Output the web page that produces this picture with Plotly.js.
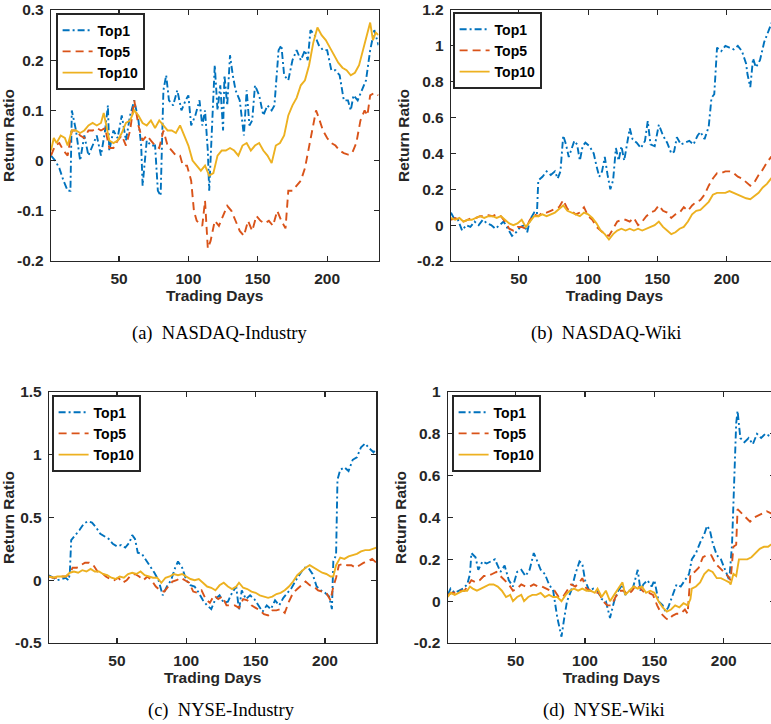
<!DOCTYPE html>
<html>
<head>
<meta charset="utf-8">
<script src="https://cdn.plot.ly/plotly-3.0.1.min.js"></script>
<style>
html,body{margin:0;padding:0;background:#fff;overflow:hidden;}
#chart{width:780px;height:724px;}
</style>
</head>
<body>
<div id="chart"></div>
<script>
// ---------------- DATA ----------------
const seriesNames = ['Top1', 'Top5', 'Top10'];
const captions = ['(a)\u2002NASDAQ-Industry', '(b)\u2002NASDAQ-Wiki', '(c)\u2002NYSE-Industry', '(d)\u2002NYSE-Wiki'];
const xTickVals = [50, 100, 150, 200];
const xTickText = ['50', '100', '150', '200'];

// (a) NASDAQ-Industry
const aDays1 = [1,4,7,10,13,15,16,19,22,25,28,31,34,37,40,42,43,46,49,52,55,58,61,64,66,67,70,73,76,78,80,82,84,86,89,92,95,98,100,102,105,108,110,112,114,115,117,119,121,123,125,126,128,130,132,134,137,140,142,144,146,148,151,154,157,160,162,165,167,169,172,175,178,181,184,186,188,191,194,197,200,203,206,209,212,215,217,219,222,225,228,231,234,237];
const aTop1 = [0.01,0,-0.015,-0.04,-0.06,-0.06,0.1,0.06,0.0,0.05,0.01,0.03,0.05,0.01,0.06,0.11,0.02,0.06,0.045,0.09,0.04,0.09,0.12,0.08,0.03,-0.05,0.04,0.03,0.03,-0.06,-0.07,0.14,0.17,0.12,0.11,0.14,0.1,0.12,0.13,0.07,0.09,0.12,0.07,0.1,0.02,-0.06,0.08,0.19,0.1,0.15,0.06,0.17,0.11,0.21,0.17,0.14,0.12,0.05,0.14,0.07,0.08,0.15,0.13,0.09,0.11,0.1,0.11,0.22,0.23,0.17,0.16,0.2,0.22,0.2,0.22,0.2,0.26,0.25,0.23,0.22,0.22,0.18,0.18,0.17,0.12,0.12,0.1,0.13,0.12,0.14,0.16,0.22,0.26,0.23];
const aDays5 = [1,4,7,10,13,16,19,22,25,28,31,34,37,40,43,46,49,52,55,58,61,64,67,70,73,76,79,82,85,88,91,94,96,99,102,104,106,108,110,112,114,116,119,122,125,128,131,134,137,140,143,146,149,152,155,158,161,164,167,170,172,175,178,181,184,187,190,192,194,197,200,203,206,209,212,215,218,221,224,227,229,231,234,237];
const aTop5 = [0.01,0.03,0.035,0.02,0.01,0.06,0.06,0.05,0.045,0.06,0.06,0.065,0.06,0.065,0.025,0.025,0.04,0.05,0.03,0.06,0.12,0.07,0.04,0.05,0.04,0.03,0.025,0.06,0.03,0.02,0.01,0.01,-0.01,-0.01,-0.04,-0.1,-0.12,-0.125,-0.13,-0.08,-0.175,-0.16,-0.12,-0.13,-0.11,-0.09,-0.1,-0.12,-0.14,-0.15,-0.12,-0.14,-0.11,-0.12,-0.125,-0.12,-0.13,-0.1,-0.12,-0.135,-0.06,-0.06,-0.05,-0.04,-0.015,0.03,0.07,0.1,0.085,0.06,0.045,0.035,0.03,0.02,0.015,0.012,0.015,0.035,0.08,0.1,0.09,0.13,0.135,0.13];
const aDays10 = [1,3,5,8,11,13,16,19,22,25,28,31,34,37,39,41,43,46,49,52,55,58,61,64,67,70,73,76,79,82,85,88,91,94,97,100,103,106,109,112,115,118,121,124,127,130,133,136,139,142,145,148,151,154,157,160,163,166,169,172,175,178,181,184,187,190,193,196,199,202,205,208,211,214,217,220,223,226,229,231,233,235,237];
const aTop10 = [0.02,0.045,0.035,0.05,0.045,0.03,0.06,0.06,0.055,0.06,0.07,0.075,0.07,0.075,0.095,0.07,0.04,0.035,0.04,0.055,0.075,0.08,0.1,0.09,0.075,0.07,0.08,0.065,0.08,0.07,0.06,0.06,0.055,0.07,0.05,0.03,0.0,-0.01,-0.02,-0.01,-0.03,-0.025,0.01,0.02,0.02,0.025,0.02,0.01,0.03,0.035,0.02,0.03,0.035,0.02,0.01,-0.005,0.03,0.035,0.05,0.09,0.11,0.125,0.15,0.16,0.19,0.235,0.265,0.25,0.24,0.225,0.21,0.195,0.185,0.18,0.17,0.175,0.19,0.22,0.25,0.275,0.24,0.255,0.25];
const aYTickVals = [-0.2, -0.1, 0, 0.1, 0.2, 0.3];
const aYTickText = ['-0.2', '-0.1', '0', '0.1', '0.2', '0.3'];

// (b) NASDAQ-Wiki
const bDays1 = [1,3,6,9,12,15,18,21,24,27,30,33,36,39,42,45,48,51,54,56,58,61,63,64,67,70,73,76,78,80,82,84,86,88,90,92,94,96,98,101,104,106,108,110,112,114,116,118,120,122,124,126,128,130,132,135,138,141,143,145,148,151,154,157,160,162,164,167,170,173,176,179,181,184,187,189,191,193,196,199,202,205,208,211,214,215,217,219,221,224,227,230,233,235];
const bTop1 = [0.07,0.04,0.03,-0.03,0.0,-0.01,0.02,0.0,0.03,0.01,0.0,-0.02,0.0,0.02,-0.02,-0.06,-0.04,-0.01,0.0,-0.04,0.03,0.07,0.06,0.25,0.27,0.3,0.28,0.3,0.26,0.3,0.5,0.45,0.38,0.42,0.47,0.45,0.36,0.44,0.46,0.44,0.4,0.33,0.27,0.3,0.38,0.28,0.2,0.25,0.43,0.36,0.44,0.36,0.45,0.54,0.48,0.46,0.43,0.47,0.58,0.45,0.44,0.56,0.5,0.46,0.4,0.41,0.49,0.45,0.46,0.47,0.45,0.5,0.52,0.48,0.55,0.71,0.73,0.99,0.97,1.0,0.99,0.98,1.0,0.97,0.9,0.84,0.77,0.93,0.88,0.92,1.02,1.08,1.14,1.16];
const bDays = [1,4,7,10,13,16,19,22,25,28,31,34,37,40,43,46,49,52,55,58,61,64,67,70,73,76,79,82,85,88,91,94,97,100,103,106,109,112,115,118,121,124,127,130,133,136,139,142,145,148,151,154,157,160,163,166,169,172,175,178,181,184,187,190,193,196,199,202,205,208,211,214,217,220,223,226,229,232,235];
const bTop5 = [0.03,0.04,0.03,0.02,0.03,0.04,0.04,0.05,0.05,0.055, 0.05,0.06,0.05,0.02,-0.02,-0.03,-0.01,-0.01,-0.02,0.03, 0.06,0.05,0.07,0.07,0.08,0.09,0.1,0.14,0.09,0.08, 0.06,0.07,0.1,0.05,0.03,-0.01,-0.03,-0.05,-0.06,-0.02, 0.02,0.03,0.03,0.02,0.04,0.0,0.02,0.05,0.07,0.08, 0.11,0.08,0.07,0.04,0.06,0.07,0.1,0.08,0.11,0.13, 0.14,0.17,0.22,0.26,0.29,0.29,0.3,0.3,0.29,0.27, 0.26,0.24,0.22,0.24,0.28,0.31,0.35,0.38,0.38];
const bTop10 = [0.04,0.03,0.04,0.02,0.03,0.03,0.04,0.05,0.04,0.05, 0.05,0.04,0.05,0.03,0.01,0.0,0.01,0.03,-0.01,0.02, 0.05,0.05,0.06,0.05,0.06,0.07,0.09,0.11,0.08,0.07, 0.06,0.05,0.07,0.06,0.04,0.01,-0.03,-0.05,-0.08,-0.05, -0.03,-0.02,-0.03,-0.02,-0.03,-0.02,-0.03,-0.02,-0.01,0.0, 0.02,-0.01,-0.03,-0.05,-0.04,-0.02,-0.01,0.02,0.06,0.08, 0.085,0.11,0.13,0.17,0.18,0.18,0.18,0.19,0.18,0.17, 0.16,0.15,0.145,0.16,0.18,0.21,0.23,0.26,0.26];
const bYTickVals = [-0.2, 0, 0.2, 0.4, 0.6, 0.8, 1, 1.2];
const bYTickText = ['-0.2', '0', '0.2', '0.4', '0.6', '0.8', '1', '1.2'];

// (c) NYSE-Industry
const cDays1 = [1,4,7,10,13,15,16,17,20,23,26,29,32,35,38,41,44,47,50,53,56,59,61,63,65,68,71,74,77,80,83,86,89,92,94,97,100,103,106,109,112,115,118,121,124,127,130,133,136,138,140,143,146,149,152,155,158,161,164,167,170,173,176,179,182,185,188,191,194,197,200,203,205,206,208,209,211,214,217,220,223,226,229,232,235,237];
const cTop1 = [0.04,0.02,0.0,0.01,0.02,0.0,0.05,0.32,0.36,0.4,0.45,0.47,0.46,0.42,0.37,0.35,0.33,0.29,0.27,0.28,0.26,0.3,0.36,0.33,0.22,0.21,0.16,0.12,0.06,0.0,-0.12,-0.05,0.0,0.1,0.15,0.1,0.0,-0.04,-0.05,-0.1,-0.16,-0.2,-0.23,-0.15,-0.12,-0.18,-0.17,-0.1,-0.05,-0.24,-0.08,-0.15,-0.12,-0.15,-0.2,-0.25,-0.2,-0.23,-0.16,-0.2,-0.14,-0.1,-0.06,0.0,0.05,0.1,0.1,0.05,-0.05,-0.08,-0.1,-0.13,-0.23,0.15,0.2,0.8,0.88,0.9,0.87,0.96,0.98,1.06,1.09,1.05,1.02,1.05];
const cDays5 = [1,4,7,10,13,16,18,21,24,27,30,33,36,39,42,45,48,51,54,57,60,63,66,69,72,75,78,81,84,87,90,93,96,99,102,105,108,111,114,117,120,123,126,129,132,135,138,141,144,147,150,153,156,159,162,165,168,171,174,177,180,183,186,189,192,195,198,201,204,206,208,210,213,216,219,222,225,228,231,234,237];
const cTop5 = [0.03,0.02,0.02,0.03,0.03,0.05,0.1,0.1,0.12,0.14,0.14,0.12,0.07,0.06,0.03,0.01,0.0,0.02,-0.02,0.0,0.04,0.05,0.03,0.0,0.03,0.0,-0.05,-0.08,-0.09,-0.05,-0.01,0.0,0.02,0.0,-0.02,-0.09,-0.1,-0.08,-0.15,-0.18,-0.12,-0.15,-0.13,-0.2,-0.2,-0.2,-0.22,-0.15,-0.16,-0.2,-0.22,-0.24,-0.27,-0.28,-0.24,-0.24,-0.23,-0.26,-0.17,-0.1,-0.07,-0.04,-0.01,-0.04,-0.05,-0.08,-0.09,-0.1,-0.16,-0.05,0.02,0.12,0.13,0.12,0.12,0.1,0.12,0.14,0.15,0.17,0.14];
const cDays10 = [1,4,7,10,13,16,19,22,25,28,31,34,37,40,43,46,49,52,55,58,61,64,67,70,73,76,79,82,85,88,91,94,97,100,103,106,109,112,115,118,121,124,127,130,133,136,138,141,144,147,150,153,156,159,162,165,168,171,174,177,180,183,186,189,192,195,198,201,204,206,208,211,214,217,220,223,226,229,232,235,237];
const cTop10 = [0.03,0.02,0.03,0.03,0.03,0.06,0.07,0.06,0.08,0.07,0.09,0.07,0.07,0.05,0.04,0.02,0.01,0.03,0.02,0.05,0.06,0.05,0.07,0.04,0.03,0.02,0.02,-0.02,0.02,0.03,0.05,0.04,0.05,0.03,0.01,0.0,0.01,-0.02,-0.05,-0.06,-0.08,-0.04,-0.02,-0.05,-0.07,-0.05,-0.02,-0.06,-0.07,-0.09,-0.1,-0.12,-0.13,-0.14,-0.13,-0.11,-0.1,-0.08,-0.05,-0.01,0.04,0.07,0.1,0.12,0.1,0.08,0.06,0.05,0.03,0.03,0.12,0.18,0.17,0.19,0.2,0.21,0.23,0.24,0.24,0.25,0.26];
const cYTickVals = [-0.5, 0, 0.5, 1, 1.5];
const cYTickText = ['-0.5', '0', '0.5', '1', '1.5'];

// (d) NYSE-Wiki
const dDays1 = [1,3,6,9,12,15,17,18,21,23,26,29,32,35,37,39,42,45,48,51,54,57,60,63,65,68,71,74,77,80,82,83,85,87,90,93,96,98,100,103,106,109,112,115,118,121,124,127,129,131,134,136,138,140,142,145,148,150,153,156,158,160,163,166,169,172,175,177,180,183,186,188,190,192,195,198,201,204,206,208,209,210,212,215,218,221,224,227,230,233,236];
const dTop1 = [0.03,0.06,0.04,0.05,0.06,0.08,0.13,0.23,0.21,0.15,0.19,0.18,0.19,0.2,0.17,0.14,0.17,0.1,0.07,0.14,0.15,0.12,0.15,0.23,0.2,0.15,0.13,0.08,0.05,-0.08,-0.14,-0.17,-0.08,0.0,0.05,0.13,0.19,0.18,0.1,0.05,0.06,0.05,0.01,0.0,-0.08,0.0,0.05,0.08,0.03,0.05,0.05,0.1,0.15,0.05,0.08,0.1,0.07,0.1,0.0,-0.02,-0.05,-0.03,0.03,0.08,0.07,0.1,0.13,0.2,0.23,0.28,0.32,0.36,0.34,0.28,0.22,0.2,0.15,0.1,0.27,0.6,0.85,0.91,0.78,0.76,0.78,0.75,0.8,0.78,0.8,0.79,0.79];
const dDays5 = [1,4,7,10,13,16,18,21,24,27,30,33,36,39,42,45,48,51,54,57,60,63,66,69,72,75,78,81,84,87,90,93,96,98,101,104,107,110,113,116,119,122,125,128,131,134,137,140,143,146,149,152,155,158,160,163,166,169,172,174,176,179,182,185,188,191,194,197,200,203,205,207,209,210,213,216,219,222,225,228,231,234,237];
const dTop5 = [0.03,0.04,0.04,0.05,0.05,0.08,0.1,0.09,0.1,0.12,0.12,0.13,0.14,0.12,0.1,0.08,0.05,0.06,0.08,0.07,0.07,0.08,0.07,0.07,0.06,0.05,0.05,0.02,0.02,0.05,0.08,0.07,0.09,0.11,0.06,0.05,0.04,0.04,0.0,-0.02,-0.02,0.02,0.05,0.05,0.03,0.05,0.08,0.06,0.04,0.04,0.03,-0.02,-0.06,-0.08,-0.09,-0.07,-0.06,-0.06,-0.04,-0.06,0.13,0.14,0.16,0.21,0.22,0.22,0.18,0.16,0.14,0.12,0.1,0.26,0.27,0.44,0.42,0.4,0.38,0.4,0.41,0.42,0.43,0.42,0.42];
const dDays10 = [1,3,6,9,12,15,17,19,22,25,28,31,34,37,40,43,46,48,51,54,56,59,62,65,68,71,74,77,80,83,86,89,92,95,98,101,104,107,109,112,115,118,121,124,127,129,132,135,138,141,144,147,150,153,156,159,162,165,168,171,174,176,177,180,183,186,189,192,195,198,201,204,205,207,209,211,214,217,220,223,226,229,232,234,237];
const dTop10 = [0.02,0.04,0.03,0.04,0.05,0.05,0.07,0.06,0.05,0.06,0.07,0.08,0.08,0.07,0.05,0.02,0.03,0.0,0.02,0.03,0.0,0.02,0.03,0.03,0.04,0.02,0.03,0.02,0.02,0.0,0.03,0.05,0.06,0.05,0.06,0.05,0.05,0.04,0.06,0.02,0.05,0.0,0.03,0.06,0.09,0.03,0.05,0.07,0.06,0.07,0.04,0.05,0.04,0.0,-0.03,-0.05,-0.04,-0.02,-0.03,-0.01,-0.02,0.01,0.06,0.07,0.09,0.13,0.15,0.14,0.11,0.11,0.1,0.09,0.08,0.13,0.12,0.2,0.2,0.2,0.21,0.23,0.25,0.26,0.26,0.27,0.27];
const dYTickVals = [-0.2, 0, 0.2, 0.4, 0.6, 0.8, 1];
const dYTickText = ['-0.2', '0', '0.2', '0.4', '0.6', '0.8', '1'];

// ---------------- STYLE / LAYOUT ----------------
const W = 780, H = 724;
const colors = ['#0072BD', '#D95319', '#EDB120'];
const dashes = ['7px,3px,2px,3px', '8px,5px', 'solid'];
const axisColor = '#262626';
const sans = 'Liberation Sans, Arial, Helvetica, sans-serif';

// pixel boxes of the four plot areas [left, right, top, bottom]
const boxes = [
  [51, 378.5, 10, 261],
  [451, 778, 10, 261],
  [49, 376.3, 392, 643],
  [447.8, 775, 392, 643]
];
const legendPos = [[56, 13], [453, 12], [52, 395], [452, 395]];
const captionPos = [[219, 333], [606, 333], [221, 710], [604, 710]];

const panels = [
  {days: [aDays1, aDays5, aDays10], vals: [aTop1, aTop5, aTop10], yr: [-0.2, 0.3], ytv: aYTickVals, ytt: aYTickText},
  {days: [bDays1, bDays, bDays], vals: [bTop1, bTop5, bTop10], yr: [-0.2, 1.2], ytv: bYTickVals, ytt: bYTickText},
  {days: [cDays1, cDays5, cDays10], vals: [cTop1, cTop5, cTop10], yr: [-0.5, 1.5], ytv: cYTickVals, ytt: cYTickText},
  {days: [dDays1, dDays5, dDays10], vals: [dTop1, dTop5, dTop10], yr: [-0.2, 1.0], ytv: dYTickVals, ytt: dYTickText}
];

const traces = [];
const layout = {
  width: W, height: H,
  margin: {l: 0, r: 0, t: 0, b: 0},
  paper_bgcolor: '#fff', plot_bgcolor: '#fff',
  font: {family: sans, color: axisColor},
  annotations: []
};

panels.forEach((p, i) => {
  const n = i + 1;
  const xa = 'xaxis' + (n === 1 ? '' : n);
  const ya = 'yaxis' + (n === 1 ? '' : n);
  const lg = 'legend' + (n === 1 ? '' : n);
  const b = boxes[i];
  const common = {
    showline: true, linecolor: axisColor, linewidth: 1.2, mirror: 'ticks',
    ticks: 'inside', ticklen: 5, tickwidth: 1.2, tickcolor: axisColor,
    showgrid: false, zeroline: false, fixedrange: true,
    tickfont: {family: sans, size: 15.5, color: axisColor, weight: 'bold'}
  };
  layout[xa] = Object.assign({}, common, {
    domain: [b[0] / W, b[1] / W],
    range: [1, 237],
    tickmode: 'array', tickvals: xTickVals, ticktext: xTickText,
    anchor: 'y' + (n === 1 ? '' : n),
    ticklabelstandoff: 3,
    title: {text: 'Trading Days', standoff: 4, font: {family: sans, size: 15.5, color: axisColor, weight: 'bold'}}
  });
  layout[ya] = Object.assign({}, common, {
    domain: [1 - b[3] / H, 1 - b[2] / H],
    range: p.yr,
    tickmode: 'array', tickvals: p.ytv, ticktext: p.ytt,
    anchor: 'x' + (n === 1 ? '' : n),
    ticklabelstandoff: 3,
    title: {text: 'Return Ratio', standoff: 3, font: {family: sans, size: 15.5, color: axisColor, weight: 'bold'}}
  });
  layout[lg] = {
    x: legendPos[i][0] / W, y: 1 - legendPos[i][1] / H,
    xanchor: 'left', yanchor: 'top',
    bgcolor: '#fff', bordercolor: axisColor, borderwidth: 1.6,
    font: {family: sans, size: 14, color: '#000', weight: 'bold'},
    tracegroupgap: 0, itemwidth: 30
  };
  seriesNames.forEach((nm, k) => {
    traces.push({
      type: 'scatter', mode: 'lines', name: nm,
      x: p.days[k], y: p.vals[k],
      xaxis: 'x' + (n === 1 ? '' : n), yaxis: 'y' + (n === 1 ? '' : n),
      legend: lg,
      line: {color: colors[k], width: 1.9, dash: dashes[k]},
      hoverinfo: 'skip'
    });
  });
  layout.annotations.push({
    text: captions[i], xref: 'paper', yref: 'paper',
    x: captionPos[i][0] / W, y: 1 - captionPos[i][1] / H,
    xanchor: 'center', yanchor: 'middle', showarrow: false,
    font: {family: 'Liberation Serif, Times New Roman, serif', size: 18.5, color: '#000'}
  });
});

Plotly.newPlot('chart', traces, layout, {staticPlot: true, displayModeBar: false});
</script>
</body>
</html>
